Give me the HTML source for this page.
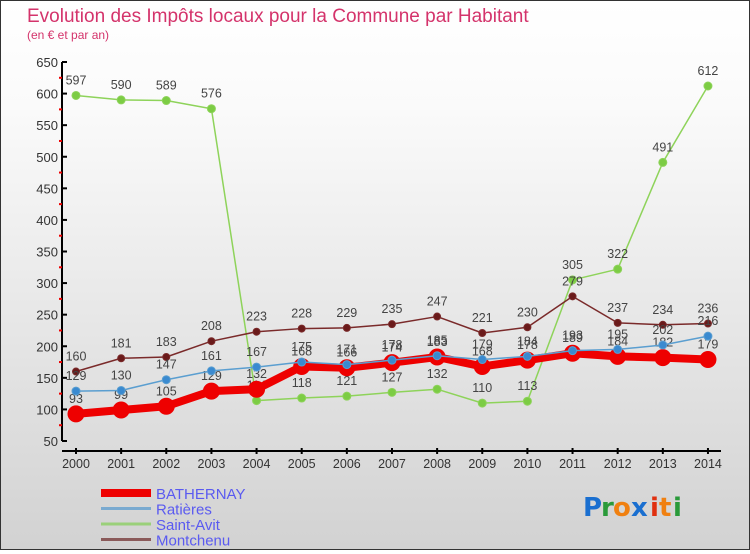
<!DOCTYPE html>
<html><head><meta charset="utf-8"><style>
body{margin:0;width:750px;height:550px;overflow:hidden;font-family:"Liberation Sans",sans-serif}
#wrap{position:relative;width:748px;height:548px;border:1px solid #333;background:linear-gradient(#fff,#fafafa 20%,#d2d2d2)}
</style></head><body>
<div id="wrap">
<svg id="svg" width="748" height="548" xmlns="http://www.w3.org/2000/svg">
<text x="26" y="21" font-size="19" fill="#d4336b">Evolution des Impôts locaux pour la Commune par Habitant</text>
<text x="26" y="38" font-size="12" fill="#d4336b">(en € et par an)</text>
<g id="axes"></g><g id="series"></g><g id="legend"></g>
<g font-size="26" font-family="'DejaVu Sans',sans-serif" font-weight="bold">
<text x="582" y="515" fill="#1a6fd0">P</text><text x="600" y="515" fill="#2a9a3a">r</text><text x="612" y="515" fill="#f08010">o</text><text x="630" y="515" fill="#1a6fd0">x</text><text x="649" y="515" fill="#e03010">i</text><text x="658" y="515" fill="#f08010">t</text><text x="672" y="515" fill="#2a9a3a">i</text>
</g>
</svg></div>
<script>
const years=[2000,2001,2002,2003,2004,2005,2006,2007,2008,2009,2010,2011,2012,2013,2014];
const yTicks=[50,100,150,200,250,300,350,400,450,500,550,600,650];
const bathernay=[93,99,105,129,132,168,166,174,183,168,178,189,184,182,179];
const ratieres=[129,130,147,161,167,175,171,178,185,179,184,193,195,202,216];
const saintAvit=[597,590,589,576,114,118,121,127,132,110,113,305,322,491,612];
const montchenu=[160,181,183,208,223,228,229,235,247,221,230,279,237,234,236];
const NS="http://www.w3.org/2000/svg";
const X=i=>75+i*45.14;
const Y=v=>61+(650-v)*(379/600);
function mk(parent,tag,attrs){const e=document.createElementNS(NS,tag);for(const k in attrs)e.setAttribute(k,attrs[k]);parent.appendChild(e);return e;}
const axes=document.getElementById('axes');
let a=mk(axes,'line',{x1:61,y1:61,x2:61,y2:440,stroke:'#000','stroke-width':2});

a=mk(axes,'line',{x1:61,y1:450,x2:720,y2:450,stroke:'#000','stroke-width':2});

yTicks.forEach((v,i)=>{
 mk(axes,'line',{x1:61,y1:Y(v),x2:66,y2:Y(v),stroke:'#000','stroke-width':2});
 if(i<yTicks.length-1)mk(axes,'line',{x1:58,y1:Y(v+25),x2:61,y2:Y(v+25),stroke:'#e00','stroke-width':2});
 const t=mk(axes,'text',{x:57,y:Y(v)+5,'text-anchor':'end','font-size':13,fill:'#333'});t.textContent=v;
 
});
years.forEach((y,i)=>{
 mk(axes,'line',{x1:X(i),y1:447,x2:X(i),y2:453,stroke:'#000','stroke-width':2});
 const t=mk(axes,'text',{x:X(i),y:467,'text-anchor':'middle','font-size':12.5,fill:'#333'});t.textContent=y;
 
});
const ser=document.getElementById('series');
function draw(data,name,color,lw,mc,mr,dy){
 const g=mk(ser,'g',{});
 
 const l=mk(g,'polyline',{points:data.map((v,i)=>X(i)+','+Y(v)).join(' '),fill:'none',stroke:color,'stroke-width':lw,'stroke-linejoin':'round'});
 
 data.forEach((v,i)=>{
  const c=mk(g,'circle',{cx:X(i),cy:Y(v),r:mr,fill:mc,stroke:color,'stroke-width':1});
  
  const t=mk(g,'text',{x:X(i),y:Y(v)+dy,'text-anchor':'middle','font-size':12.5,fill:'#444'});t.textContent=v;
  
 });
}
draw(saintAvit,'saint-avit','#8ed35a',1.5,'#7ccc44',4,-11);
draw(montchenu,'montchenu','#7a2a2a',1.5,'#6a1a1a',3.5,-11);
draw(bathernay,'bathernay','#ee0000',8,'#ee0000',8,-11);
draw(ratieres,'ratieres','#5a9ed0',1.5,'#3a8ad0',4,-11);
const leg=document.getElementById('legend');
[['BATHERNAY','#ee0000',8],['Ratières','#7aaad0',3],['Saint-Avit','#9ad07a',3],['Montchenu','#8a5a5a',3]].forEach((e,i)=>{
 const y=492+i*15.5;
 const g=mk(leg,'g',{});
 mk(g,'line',{x1:100,y1:y,x2:150,y2:y,stroke:e[1],'stroke-width':e[2]});
 const t=mk(g,'text',{x:155,y:y+6,'font-size':15,fill:'#5a5af0'});t.textContent=e[0];
});
</script>
</body></html>
